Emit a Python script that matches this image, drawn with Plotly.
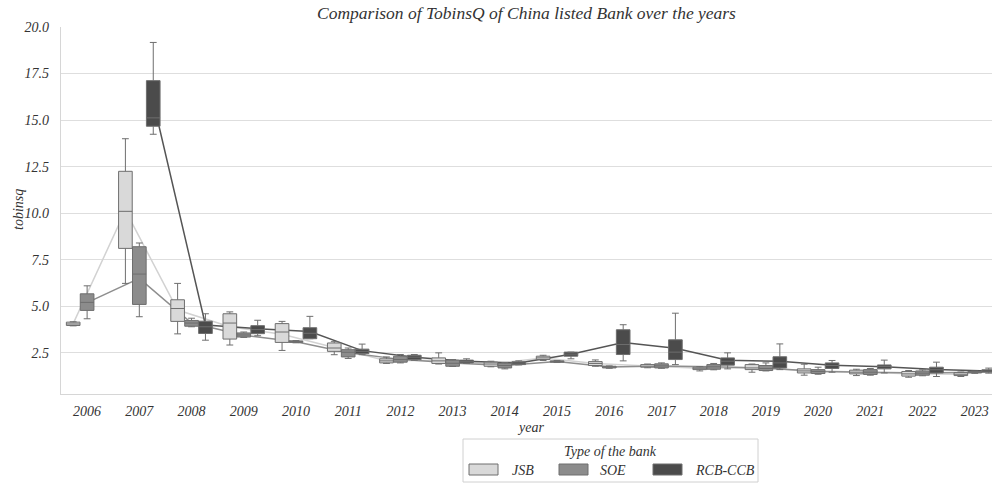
import plotly.graph_objects as go

# ---------------- data ----------------
years = [str(y) for y in range(2006, 2024)]
bank_types = ["JSB", "SOE", "RCB-CCB"]

jsb_q1 = [3.97, 8.11, 4.19, 3.24, 3.06, 2.58, 1.96, 1.93, 1.78, 2.14, 1.82, 1.73, 1.60, 1.60, 1.42, 1.37, 1.25, 1.28]
jsb_med = [4.05, 10.1, 4.88, 4.10, 3.62, 2.76, 2.07, 2.07, 1.90, 2.23, 1.93, 1.78, 1.67, 1.69, 1.53, 1.46, 1.37, 1.35]
jsb_q3 = [4.15, 12.25, 5.35, 4.60, 4.07, 3.03, 2.18, 2.23, 2.00, 2.32, 2.03, 1.87, 1.73, 1.87, 1.64, 1.57, 1.50, 1.44]
jsb_lo = [3.95, 6.23, 3.52, 2.92, 2.63, 2.40, 1.93, 1.90, 1.75, 2.09, 1.78, 1.70, 1.53, 1.46, 1.30, 1.28, 1.19, 1.23]
jsb_hi = [4.17, 14.0, 6.23, 4.70, 4.19, 3.10, 2.28, 2.50, 2.05, 2.37, 2.12, 1.90, 1.76, 1.90, 1.89, 1.62, 1.55, 1.47]
jsb_mean = [4.07, 10.15, 4.8, 3.9, 3.5, 2.8, 2.08, 2.1, 1.9, 2.22, 1.93, 1.8, 1.67, 1.7, 1.55, 1.47, 1.38, 1.35]

soe_q1 = [4.78, 5.10, 3.93, 3.35, 3.06, 2.28, 2.00, 1.78, 1.69, 2.00, 1.69, 1.69, 1.62, 1.55, 1.39, 1.34, 1.30, 1.42]
soe_med = [5.21, 6.73, 4.10, 3.46, 3.10, 2.53, 2.14, 1.94, 1.82, 2.03, 1.74, 1.80, 1.75, 1.66, 1.50, 1.46, 1.41, 1.46]
soe_q3 = [5.67, 8.20, 4.24, 3.57, 3.14, 2.67, 2.32, 2.11, 1.94, 2.07, 1.78, 1.91, 1.87, 1.82, 1.60, 1.60, 1.53, 1.50]
soe_lo = [4.33, 4.44, 3.90, 3.33, 3.04, 2.20, 1.96, 1.77, 1.64, 1.98, 1.67, 1.67, 1.59, 1.53, 1.35, 1.30, 1.27, 1.40]
soe_hi = [6.10, 8.40, 4.36, 3.62, 3.16, 2.76, 2.41, 2.14, 1.98, 2.09, 1.80, 1.96, 1.93, 1.96, 1.73, 1.66, 1.59, 1.52]
soe_mean = [5.2, 6.5, 4.1, 3.45, 3.1, 2.5, 2.15, 1.95, 1.82, 2.03, 1.74, 1.8, 1.75, 1.68, 1.5, 1.47, 1.42, 1.46]

rcb_q1 = [None, 14.67, 3.54, 3.53, 3.26, 2.46, 2.14, 1.96, 1.87, 2.32, 2.41, 2.14, 1.84, 1.69, 1.66, 1.64, 1.42, 1.46]
rcb_med = [None, 15.12, 3.90, 3.75, 3.55, 2.58, 2.27, 2.03, 1.95, 2.43, 2.95, 2.54, 2.05, 1.96, 1.82, 1.77, 1.59, 1.52]
rcb_q3 = [None, 17.12, 4.20, 3.96, 3.85, 2.70, 2.37, 2.11, 2.02, 2.54, 3.74, 3.20, 2.23, 2.29, 1.96, 1.85, 1.73, 1.59]
rcb_lo = [None, 14.24, 3.18, 3.42, 3.26, 2.40, 2.10, 1.93, 1.85, 2.18, 2.07, 1.87, 1.64, 1.60, 1.46, 1.42, 1.23, 1.41]
rcb_hi = [None, 19.17, 4.60, 4.25, 4.46, 2.97, 2.41, 2.18, 2.07, 2.54, 4.01, 4.63, 2.50, 2.98, 2.09, 2.11, 2.00, 1.68]
rcb_mean = [None, 16.0, 4.0, 3.8, 3.65, 2.62, 2.27, 2.05, 1.95, 2.43, 3.05, 2.75, 2.1, 2.05, 1.83, 1.76, 1.6, 1.52]

y_ticks = [2.5, 5.0, 7.5, 10.0, 12.5, 15.0, 17.5, 20.0]

# ---------------- styling ----------------
FONT = "Liberation Serif"
fills = ["#d9d9d9", "#8c8c8c", "#4b4b4b"]
line_cols = ["#d2d2d2", "#8e8e8e", "#555555"]
edge = "#6e6e6e"
n_h = 3
dodge_w = 0.8
box_w = dodge_w / n_h
offsets = [(-1 + k) * box_w for k in range(n_h)]

series = [
    (jsb_q1, jsb_med, jsb_q3, jsb_lo, jsb_hi, jsb_mean),
    (soe_q1, soe_med, soe_q3, soe_lo, soe_hi, soe_mean),
    (rcb_q1, rcb_med, rcb_q3, rcb_lo, rcb_hi, rcb_mean),
]

fig = go.Figure()

# mean lines (base subplot, drawn beneath the boxes)
for k, name in enumerate(bank_types):
    q1, med, q3, lo, hi, mn = series[k]
    xs = [i + offsets[k] for i in range(len(years)) if mn[i] is not None]
    ys = [mn[i] for i in range(len(years)) if mn[i] is not None]
    fig.add_trace(go.Scatter(x=xs, y=ys, mode="lines", showlegend=False,
                             line=dict(color=line_cols[k], width=1.5),
                             xaxis="x", yaxis="y", hoverinfo="skip"))

# boxes (overlay subplot, drawn on top)
for k, name in enumerate(bank_types):
    q1, med, q3, lo, hi, mn = series[k]
    idx = [i for i in range(len(years)) if q1[i] is not None]
    fig.add_trace(go.Box(
        name=name, showlegend=False,
        x=[i + offsets[k] for i in idx],
        q1=[q1[i] for i in idx], median=[med[i] for i in idx], q3=[q3[i] for i in idx],
        lowerfence=[lo[i] for i in idx], upperfence=[hi[i] for i in idx],
        width=box_w * 0.98, whiskerwidth=0.5, boxpoints=False,
        fillcolor=fills[k], line=dict(color=edge, width=1),
        xaxis="x2", yaxis="y2"))

# layout geometry (pixels)
W, H = 992, 483
L, R, T, B = 61, 992, 27, 394
pw, ph = R - L, B - T
xr = [-0.5, 17.33]
yr = [0.29, 20.0]

def px(xp):
    return (xp - L) / pw

def py(yp):
    return (B - yp) / ph

font_it = dict(family=FONT, style="italic", color="#333333")

fig.update_layout(
    width=W, height=H,
    margin=dict(l=L, r=W - R, t=T, b=H - B, pad=0),
    paper_bgcolor="white", plot_bgcolor="white",
    boxmode="overlay",
    showlegend=False,
    title=dict(text="Comparison of TobinsQ of China listed Bank over the years",
               x=0.5, xref="paper", xanchor="center",
               y=1 - 13 / H, yref="container", yanchor="middle",
               font=dict(family=FONT, style="italic", size=17.5, color="#333333")),
    xaxis=dict(range=xr, tickmode="array", tickvals=list(range(len(years))),
               ticktext=years, showgrid=False, zeroline=False,
               showline=True, linecolor="#d6d6d6", linewidth=1.2,
               ticks="", tickfont=dict(size=14, **font_it), ticklabelstandoff=4),
    yaxis=dict(range=yr, tickmode="array", tickvals=y_ticks,
               ticktext=[f"{v:.1f}" for v in y_ticks],
               showgrid=True, gridcolor="#dedede", gridwidth=1.2, zeroline=False,
               showline=True, linecolor="#d6d6d6", linewidth=1.2,
               ticks="", tickfont=dict(size=14, **font_it), ticklabelstandoff=8),
    xaxis2=dict(range=xr, overlaying="x", matches="x", visible=False),
    yaxis2=dict(range=yr, overlaying="y", matches="y", visible=False),
)

ann = []
ann.append(dict(text="year", x=px(530), y=py(427), xref="paper", yref="paper",
                showarrow=False, font=dict(size=14, **font_it),
                xanchor="center", yanchor="middle"))
ann.append(dict(text="tobinsq", x=px(18), y=py(210), xref="paper", yref="paper",
                showarrow=False, textangle=-90, font=dict(size=14, **font_it),
                xanchor="center", yanchor="middle"))

# manual legend
shapes = []
shapes.append(dict(type="rect", xref="paper", yref="paper",
                   x0=px(463), x1=px(758), y0=py(482), y1=py(439),
                   line=dict(color="#d0d0d0", width=1), fillcolor="white", layer="above"))
ann.append(dict(text="Type of the bank", x=px(610), y=py(451), xref="paper", yref="paper",
                showarrow=False, font=dict(size=14, **font_it),
                xanchor="center", yanchor="middle"))
sw = [(469, 510), (559, 598), (653, 693)]
for k, name in enumerate(bank_types):
    x0, tx = sw[k]
    shapes.append(dict(type="rect", xref="paper", yref="paper",
                       x0=px(x0), x1=px(x0 + 29), y0=py(475), y1=py(464),
                       line=dict(color=edge, width=1), fillcolor=fills[k], layer="above"))
    ann.append(dict(text=name, x=px(tx), y=py(470), xref="paper", yref="paper",
                    showarrow=False, font=dict(size=14, **font_it),
                    xanchor="left", yanchor="middle"))

fig.update_layout(annotations=ann, shapes=shapes)

fig.write_html("out.html")
